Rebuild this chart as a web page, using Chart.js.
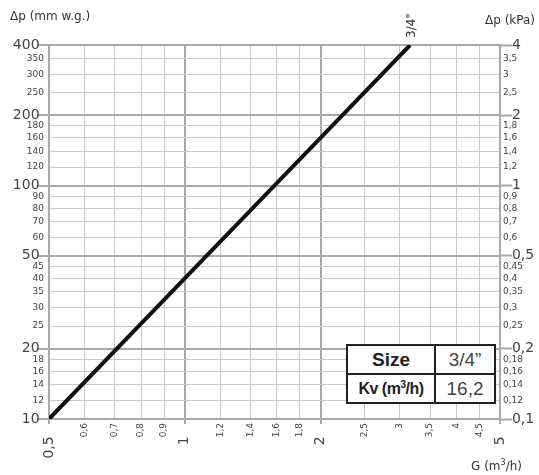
<!DOCTYPE html>
<html lang="en">
<head>
  <meta charset="UTF-8">
  <title>Pressure drop 3/4"</title>
  <script src="https://cdn.jsdelivr.net/npm/chart.js"></script>
  <style>
    body { margin: 0; background: #fff; font-family: 'DejaVu Sans', sans-serif; }
    .wrap { position: relative; width: 539px; height: 475px; }
    .axis-title { position: absolute; font-size: 12px; color: #333; white-space: nowrap; }
    #title-left { left: 10px; top: 9px; }
    #title-right { right: 4px; top: 13px; }
    #title-x { right: 17px; top: 458px; }

    /* Kv table in the lower right corner */
    .kv-table {
      position: absolute; left: 346px; top: 344px;
      border-collapse: collapse; background: #fff;
      font-family: 'Liberation Sans', Arial, sans-serif; color: #222;
    }
    .kv-table td { border: 2px solid #222; height: 27px; padding: 0 5px; text-align: center; }
    .kv-table td.head { width: 76px; font-weight: bold; }
    .kv-table td.val { width: 48px; font-size: 19px; color: #444; }
  </style>
</head>
<body>
<div class="wrap">
  <canvas id="chart" width="539" height="475"></canvas>
  <div class="axis-title" id="title-left">Δp (mm w.g.)</div>
  <div class="axis-title" id="title-right">Δp (kPa)</div>
  <div class="axis-title" id="title-x">G (m<sup style="font-size:8px">3</sup>/h)</div>
  <table class="kv-table">
    <tr><td class="head" style="font-size:19px">Size</td><td class="val">3/4”</td></tr>
    <tr><td class="head" style="font-size:16px;letter-spacing:-0.5px">Kv (m<sup style="font-size:10px">3</sup>/h)</td><td class="val">16,2</td></tr>
  </table>
</div>
<script>
  const flow = [0.5, 1, 2, 3.16];
  const dropMm = [10, 40, 160, 400];
  const lineLabel = '3/4"';

  // Tick values
  const xTicks = [0.5, 0.6, 0.7, 0.8, 0.9, 1, 1.2, 1.4, 1.6, 1.8, 2, 2.5, 3, 3.5, 4, 4.5, 5];
  const xMajor = [0.5, 1, 2, 5];
  const yTicks = [10, 12, 14, 16, 18, 20, 25, 30, 35, 40, 45, 50, 60, 70, 80, 90, 100,
                  120, 140, 160, 180, 200, 250, 300, 350, 400];
  const yMajor = [10, 20, 50, 100, 200, 400];
  // right axis: kPa
  const kpaTicks = [0.1, 0.12, 0.14, 0.16, 0.18, 0.2, 0.25, 0.3, 0.35, 0.4, 0.45, 0.5, 0.6, 0.7, 0.8, 0.9, 1,
                    1.2, 1.4, 1.6, 1.8, 2, 2.5, 3, 3.5, 4];
  const kpaMajor = [0.1, 0.2, 0.5, 1, 2, 4];

  const isMajor = (list, v) => list.some(m => Math.abs(m - v) < 1e-9);
  const comma = v => String(v).replace('.', ',');
  const majorGrid = '#a9a9a9';
  const minorGrid = '#c9c9c9';
  const tickFont = (list) => (ctx) => {
    const v = ctx.tick ? ctx.tick.value : 0;
    return isMajor(list, v) ? { family: 'DejaVu Sans', size: 14 } : { family: 'DejaVu Sans', size: 9 };
  };

  // label for the line, drawn next to its last point
  const lineLabelPlugin = {
    id: 'lineLabel',
    afterDatasetsDraw(chart) {
      const meta = chart.getDatasetMeta(0);
      const pt = meta.data[meta.data.length - 1];
      const c = chart.ctx;
      c.save();
      c.translate(pt.x + 2, pt.y - 7);
      c.rotate(-Math.PI / 2);
      c.font = '12px "DejaVu Sans"';
      c.fillStyle = '#333';
      c.textAlign = 'left';
      c.textBaseline = 'middle';
      c.fillText(lineLabel, 0, 0);
      c.restore();
    }
  };

  new Chart(document.getElementById('chart'), {
    type: 'line',
    data: {
      datasets: [{
        data: flow.map((g, i) => ({ x: g, y: dropMm[i] })),
        borderColor: '#111',
        borderWidth: 4,
        pointRadius: 0,
        tension: 0
      }]
    },
    options: {
      responsive: false,
      animation: false,
      layout: { padding: { top: 45 } },
      plugins: { legend: { display: false }, tooltip: { enabled: false } },
      scales: {
        x: {
          type: 'logarithmic',
          min: 0.5, max: 5,
          afterBuildTicks: s => { s.ticks = xTicks.map(v => ({ value: v })); },
          afterFit: s => { s.height = 56; },
          border: { color: majorGrid, width: 2 },
          grid: {
            color: ctx => isMajor(xMajor, ctx.tick.value) ? majorGrid : minorGrid,
            lineWidth: ctx => isMajor(xMajor, ctx.tick.value) ? 2 : 1,
            tickColor: ctx => isMajor(xMajor, ctx.tick.value) ? majorGrid : 'rgba(0,0,0,0)',
            tickLength: 5
          },
          ticks: {
            autoSkip: false, minRotation: 90, maxRotation: 90,
            padding: -1, color: '#444',
            font: tickFont(xMajor),
            callback: v => isMajor(xMajor, v) ? comma(v) + '   ' : comma(v)
          }
        },
        y: {
          type: 'logarithmic',
          position: 'left',
          min: 10, max: 400,
          afterBuildTicks: s => { s.ticks = yTicks.map(v => ({ value: v })); },
          afterFit: s => { s.width = 49; },
          border: { color: majorGrid, width: 2 },
          grid: {
            color: ctx => isMajor(yMajor, ctx.tick.value) ? majorGrid : minorGrid,
            lineWidth: ctx => isMajor(yMajor, ctx.tick.value) ? 2 : 1,
            tickColor: ctx => isMajor(yMajor, ctx.tick.value) ? majorGrid : 'rgba(0,0,0,0)',
            tickLength: 12
          },
          ticks: {
            autoSkip: false, padding: -7, color: '#444',
            font: tickFont(yMajor),
            callback: v => isMajor(yMajor, v) ? v + ' ' : String(v)
          }
        },
        y2: {
          type: 'logarithmic',
          position: 'right',
          min: 0.1, max: 4,
          afterBuildTicks: s => { s.ticks = kpaTicks.map(v => ({ value: v })); },
          afterFit: s => { s.width = 39; },
          border: { color: majorGrid, width: 2 },
          grid: {
            drawOnChartArea: false,
            tickColor: ctx => isMajor(kpaMajor, ctx.tick.value) ? majorGrid : 'rgba(0,0,0,0)',
            tickWidth: 2,
            tickLength: 12
          },
          ticks: {
            autoSkip: false, padding: -9, color: '#444',
            font: tickFont(kpaMajor),
            callback: v => isMajor(kpaMajor, v) ? '  ' + comma(v) : comma(v)
          }
        }
      }
    },
    plugins: [lineLabelPlugin]
  });
</script>
</body>
</html>
